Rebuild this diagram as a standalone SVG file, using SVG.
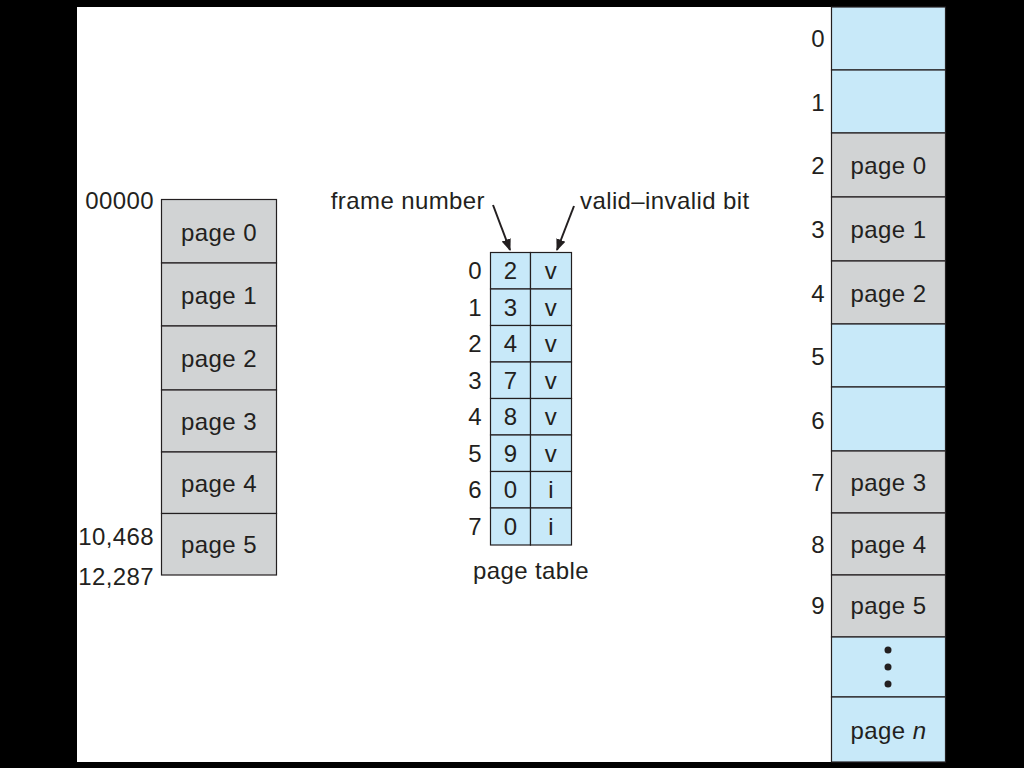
<svg xmlns="http://www.w3.org/2000/svg" width="1024" height="768" viewBox="0 0 1024 768">
<defs>
<style>
.t{font-family:"Liberation Sans",Arial,sans-serif;font-size:24px;letter-spacing:0.4px;fill:#231f20}
.c{text-anchor:middle}
.r{text-anchor:end}
.g{fill:#d1d3d4;stroke:#231f20;stroke-width:1.2}
.b{fill:#c8e9f9;stroke:#231f20;stroke-width:1.2}
.a{stroke:#231f20;stroke-width:2;fill:none;marker-end:url(#ah)}
</style>
<marker id="ah" viewBox="0 0 10 10" refX="9" refY="5" markerWidth="6" markerHeight="6" orient="auto" markerUnits="strokeWidth">
<path d="M0,1 L10,5 L0,9 z" fill="#231f20"/>
</marker>
</defs>
<rect x="0" y="0" width="1024" height="768" fill="#000"/>
<rect x="77" y="7" width="869" height="755" fill="#fff"/>

<g id="logical-memory">
<rect class="g" x="161.5" y="199.5" width="115" height="63.5"/>
<rect class="g" x="161.5" y="263" width="115" height="63"/>
<rect class="g" x="161.5" y="326" width="115" height="64"/>
<rect class="g" x="161.5" y="390" width="115" height="62"/>
<rect class="g" x="161.5" y="452" width="115" height="61.5"/>
<rect class="g" x="161.5" y="513.5" width="115" height="61.5"/>
<text class="t c" x="219" y="241">page 0</text>
<text class="t c" x="219" y="304">page 1</text>
<text class="t c" x="219" y="367">page 2</text>
<text class="t c" x="219" y="430">page 3</text>
<text class="t c" x="219" y="492">page 4</text>
<text class="t c" x="219" y="553">page 5</text>
<text class="t r" x="154" y="209">00000</text>
<text class="t r" x="154" y="545">10,468</text>
<text class="t r" x="154" y="585">12,287</text>
</g>

<g id="page-table">
<rect class="b" x="490.5" y="252.5" width="40" height="36.5"/><rect class="b" x="530.5" y="252.5" width="41" height="36.5"/>
<rect class="b" x="490.5" y="289" width="40" height="36.5"/><rect class="b" x="530.5" y="289" width="41" height="36.5"/>
<rect class="b" x="490.5" y="325.5" width="40" height="36.5"/><rect class="b" x="530.5" y="325.5" width="41" height="36.5"/>
<rect class="b" x="490.5" y="362" width="40" height="36.5"/><rect class="b" x="530.5" y="362" width="41" height="36.5"/>
<rect class="b" x="490.5" y="398.5" width="40" height="36.5"/><rect class="b" x="530.5" y="398.5" width="41" height="36.5"/>
<rect class="b" x="490.5" y="435" width="40" height="36.5"/><rect class="b" x="530.5" y="435" width="41" height="36.5"/>
<rect class="b" x="490.5" y="471.5" width="40" height="36.5"/><rect class="b" x="530.5" y="471.5" width="41" height="36.5"/>
<rect class="b" x="490.5" y="508" width="40" height="37"/><rect class="b" x="530.5" y="508" width="41" height="37"/>
<text class="t c" x="510.5" y="279">2</text><text class="t c" x="551" y="279">v</text>
<text class="t c" x="510.5" y="316">3</text><text class="t c" x="551" y="316">v</text>
<text class="t c" x="510.5" y="352">4</text><text class="t c" x="551" y="352">v</text>
<text class="t c" x="510.5" y="389">7</text><text class="t c" x="551" y="389">v</text>
<text class="t c" x="510.5" y="425">8</text><text class="t c" x="551" y="425">v</text>
<text class="t c" x="510.5" y="462">9</text><text class="t c" x="551" y="462">v</text>
<text class="t c" x="510.5" y="498">0</text><text class="t c" x="551" y="498">i</text>
<text class="t c" x="510.5" y="535">0</text><text class="t c" x="551" y="535">i</text>
<text class="t r" x="482" y="279">0</text>
<text class="t r" x="482" y="316">1</text>
<text class="t r" x="482" y="352">2</text>
<text class="t r" x="482" y="389">3</text>
<text class="t r" x="482" y="425">4</text>
<text class="t r" x="482" y="462">5</text>
<text class="t r" x="482" y="498">6</text>
<text class="t r" x="482" y="535">7</text>
<text class="t c" x="531" y="579">page table</text>
<text class="t r" x="485" y="209">frame number</text>
<text class="t" x="580" y="209">valid–invalid bit</text>
</g>

<g id="physical-memory">
<rect class="b" x="831.5" y="7" width="114" height="63"/>
<rect class="b" x="831.5" y="70" width="114" height="63"/>
<rect class="g" x="831.5" y="133" width="114" height="64"/>
<rect class="g" x="831.5" y="197" width="114" height="64"/>
<rect class="g" x="831.5" y="261" width="114" height="63"/>
<rect class="b" x="831.5" y="324" width="114" height="63"/>
<rect class="b" x="831.5" y="387" width="114" height="64"/>
<rect class="g" x="831.5" y="451" width="114" height="62"/>
<rect class="g" x="831.5" y="513" width="114" height="62"/>
<rect class="g" x="831.5" y="575" width="114" height="62"/>
<rect class="b" x="831.5" y="637" width="114" height="60"/>
<rect class="b" x="831.5" y="697" width="114" height="65"/>
<text class="t c" x="888.5" y="174">page 0</text>
<text class="t c" x="888.5" y="238">page 1</text>
<text class="t c" x="888.5" y="302">page 2</text>
<text class="t c" x="888.5" y="491">page 3</text>
<text class="t c" x="888.5" y="553">page 4</text>
<text class="t c" x="888.5" y="614">page 5</text>
<text class="t c" x="888.5" y="739">page <tspan font-style="italic">n</tspan></text>
<circle cx="888" cy="650" r="3.5" fill="#231f20"/>
<circle cx="888" cy="667" r="3.5" fill="#231f20"/>
<circle cx="888" cy="684" r="3.5" fill="#231f20"/>
<text class="t r" x="825" y="47">0</text>
<text class="t r" x="825" y="111">1</text>
<text class="t r" x="825" y="174">2</text>
<text class="t r" x="825" y="238">3</text>
<text class="t r" x="825" y="302">4</text>
<text class="t r" x="825" y="365">5</text>
<text class="t r" x="825" y="429">6</text>
<text class="t r" x="825" y="491">7</text>
<text class="t r" x="825" y="553">8</text>
<text class="t r" x="825" y="614">9</text>
</g>

<g id="connectors">
<line class="a" x1="493" y1="205" x2="510" y2="250"/>
<line class="a" x1="574" y1="206" x2="557" y2="250"/>
</g>
</svg>
